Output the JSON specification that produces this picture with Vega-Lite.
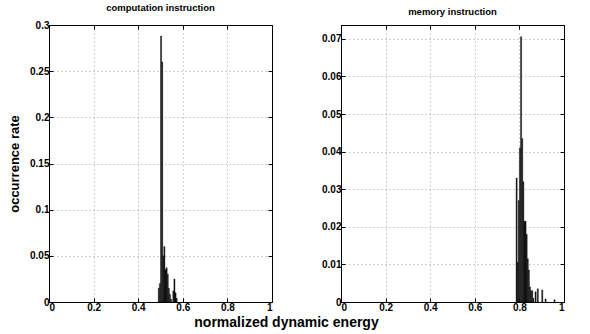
{
  "$schema": "https://vega.github.io/schema/vega-lite/v6.json",
  "padding": {"left": 8, "top": 2, "right": 6, "bottom": 2},
  "background": "white",
  "config": {
    "font": "Liberation Sans",
    "view": {"stroke": "black", "strokeWidth": 1},
    "axis": {
      "labelFont": "Liberation Sans", "labelFontWeight": "bold", "labelFontSize": 10, "labelColor": "black",
      "titleFont": "Liberation Sans", "titleFontWeight": "bold", "titleColor": "black",
      "domainColor": "black", "tickColor": "black", "tickSize": -4, "labelPadding": 4,
      "gridColor": "#8a8a8a", "gridDash": [1, 3], "gridWidth": 0.8
    },
    "title": {"font": "Liberation Sans", "fontWeight": "bold", "fontSize": 9.5, "color": "black", "offset": 8}
  },
  "title": {"text": "normalized dynamic energy", "orient": "bottom", "anchor": "middle", "fontSize": 14, "offset": 3},
  "datasets": {
    "comp": [
      {"lo": 0.49, "hi": 0.495, "rate": 0.015},
      {"lo": 0.495, "hi": 0.5, "rate": 0.02},
      {"lo": 0.5, "hi": 0.505, "rate": 0.288},
      {"lo": 0.505, "hi": 0.51, "rate": 0.26},
      {"lo": 0.51, "hi": 0.515, "rate": 0.05},
      {"lo": 0.515, "hi": 0.52, "rate": 0.06},
      {"lo": 0.52, "hi": 0.525, "rate": 0.035},
      {"lo": 0.525, "hi": 0.53, "rate": 0.037},
      {"lo": 0.53, "hi": 0.535, "rate": 0.03},
      {"lo": 0.535, "hi": 0.54, "rate": 0.015},
      {"lo": 0.54, "hi": 0.545, "rate": 0.008},
      {"lo": 0.545, "hi": 0.55, "rate": 0.003},
      {"lo": 0.555, "hi": 0.56, "rate": 0.012},
      {"lo": 0.56, "hi": 0.565, "rate": 0.025},
      {"lo": 0.565, "hi": 0.57, "rate": 0.01},
      {"lo": 0.57, "hi": 0.575, "rate": 0.004}
    ],
    "mem": [
      {"lo": 0.785, "hi": 0.79, "rate": 0.033},
      {"lo": 0.79, "hi": 0.795, "rate": 0.0105},
      {"lo": 0.795, "hi": 0.8, "rate": 0.027},
      {"lo": 0.8, "hi": 0.805, "rate": 0.041},
      {"lo": 0.805, "hi": 0.81, "rate": 0.0706},
      {"lo": 0.81, "hi": 0.815, "rate": 0.0435},
      {"lo": 0.815, "hi": 0.82, "rate": 0.032},
      {"lo": 0.82, "hi": 0.825, "rate": 0.0215},
      {"lo": 0.825, "hi": 0.83, "rate": 0.0215},
      {"lo": 0.83, "hi": 0.835, "rate": 0.018},
      {"lo": 0.835, "hi": 0.84, "rate": 0.0115},
      {"lo": 0.84, "hi": 0.845, "rate": 0.0085},
      {"lo": 0.845, "hi": 0.85, "rate": 0.004},
      {"lo": 0.85, "hi": 0.855, "rate": 0.003},
      {"lo": 0.855, "hi": 0.86, "rate": 0.003},
      {"lo": 0.86, "hi": 0.865, "rate": 0.001},
      {"lo": 0.87, "hi": 0.875, "rate": 0.0027},
      {"lo": 0.88, "hi": 0.885, "rate": 0.0035},
      {"lo": 0.9, "hi": 0.905, "rate": 0.0032},
      {"lo": 0.915, "hi": 0.92, "rate": 0.0008},
      {"lo": 0.955, "hi": 0.96, "rate": 0.0006}
    ]
  },
  "hconcat": [
    {
      "title": "computation instruction",
      "width": 223, "height": 277,
      "data": {"name": "comp"},
      "layer": [
        {
          "mark": {"type": "bar", "color": "#111111", "stroke": "#111111", "strokeWidth": 0.4},
          "encoding": {
            "x": {"field": "lo", "type": "quantitative", "scale": {"domain": [0, 1], "nice": false},
                  "axis": {"orient": "bottom", "values": [0, 0.2, 0.4, 0.6, 0.8, 1], "format": "~g", "title": null, "grid": true}},
            "x2": {"field": "hi"},
            "y": {"field": "rate", "type": "quantitative", "scale": {"domain": [0, 0.3], "nice": false},
                  "axis": {"orient": "left", "values": [0, 0.05, 0.1, 0.15, 0.2, 0.25, 0.3], "format": "~g", "title": "occurrence rate", "titleFontSize": 13, "titlePadding": 8, "grid": true}},
            "y2": {"datum": 0}
          }
        },
        {
          "mark": {"type": "bar", "opacity": 0},
          "encoding": {
            "x": {"field": "lo", "type": "quantitative", "axis": {"orient": "top", "values": [0, 0.2, 0.4, 0.6, 0.8, 1], "labels": false, "title": null, "grid": false}},
            "x2": {"field": "hi"},
            "y": {"field": "rate", "type": "quantitative", "axis": {"orient": "right", "values": [0, 0.05, 0.1, 0.15, 0.2, 0.25, 0.3], "labels": false, "title": null, "grid": false}},
            "y2": {"datum": 0}
          }
        }
      ],
      "resolve": {"axis": {"x": "independent", "y": "independent"}}
    },
    {
      "title": "memory instruction",
      "width": 223, "height": 277,
      "data": {"name": "mem"},
      "layer": [
        {
          "mark": {"type": "bar", "color": "#111111", "stroke": "#111111", "strokeWidth": 0.4},
          "encoding": {
            "x": {"field": "lo", "type": "quantitative", "scale": {"domain": [0, 1], "nice": false},
                  "axis": {"orient": "bottom", "values": [0, 0.2, 0.4, 0.6, 0.8, 1], "format": "~g", "title": null, "grid": true}},
            "x2": {"field": "hi"},
            "y": {"field": "rate", "type": "quantitative", "scale": {"domain": [0, 0.0737], "nice": false},
                  "axis": {"orient": "left", "values": [0, 0.01, 0.02, 0.03, 0.04, 0.05, 0.06, 0.07], "format": "~g", "title": null, "grid": true}},
            "y2": {"datum": 0}
          }
        },
        {
          "mark": {"type": "bar", "opacity": 0},
          "encoding": {
            "x": {"field": "lo", "type": "quantitative", "axis": {"orient": "top", "values": [0, 0.2, 0.4, 0.6, 0.8, 1], "labels": false, "title": null, "grid": false}},
            "x2": {"field": "hi"},
            "y": {"field": "rate", "type": "quantitative", "axis": {"orient": "right", "values": [0, 0.01, 0.02, 0.03, 0.04, 0.05, 0.06, 0.07], "labels": false, "title": null, "grid": false}},
            "y2": {"datum": 0}
          }
        }
      ],
      "resolve": {"axis": {"x": "independent", "y": "independent"}}
    }
  ],
  "spacing": 48
}
